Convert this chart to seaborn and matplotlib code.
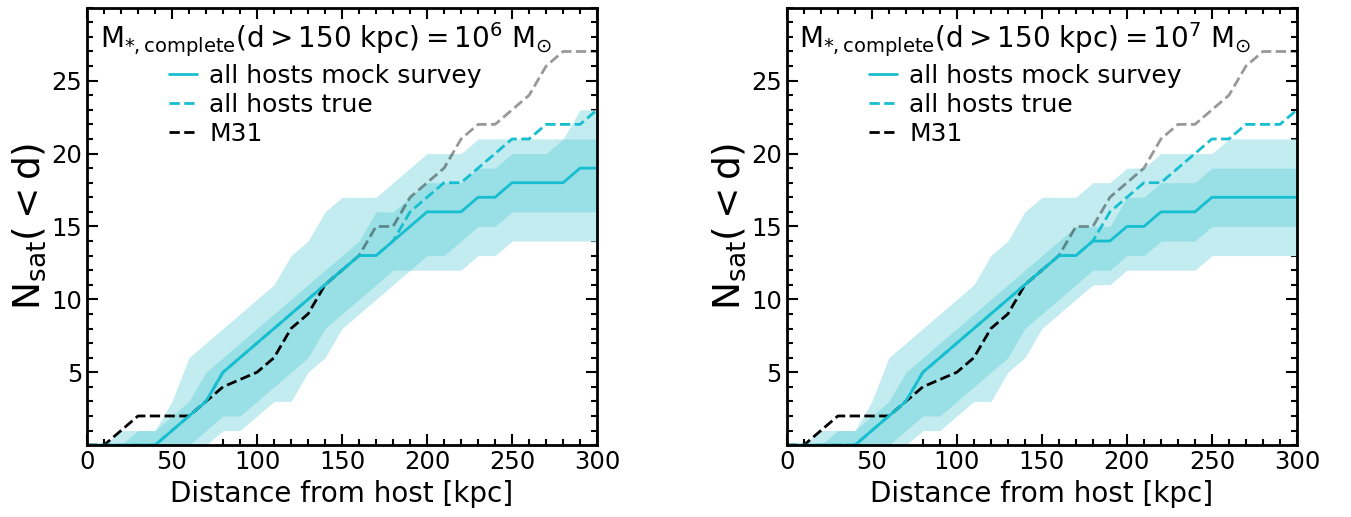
import numpy as np
import pandas as pd
import matplotlib.pyplot as plt
import seaborn as sns
from matplotlib.ticker import MultipleLocator

dist = list(range(0, 310, 10))

# M_star,complete = 1e6
mock_1e6 = [0, 0, 0, 0, 0, 1, 2, 3, 5, 6, 7, 8, 9, 10, 11, 12, 13, 13, 14, 15,
            16, 16, 16, 17, 17, 18, 18, 18, 18, 19, 19]
hi2_1e6 = [0, 0, 1, 1, 1, 3, 6, 7, 8, 9, 10, 11, 13, 14, 16, 17, 17, 17, 18, 19,
           20, 20, 20, 21, 21, 21, 21, 21, 21, 23, 23]
hi1_1e6 = [0, 0, 0, 1, 1, 2, 3, 5, 6, 7, 8, 9, 10, 11, 12, 13, 14, 16, 16, 17,
           18, 18, 18, 19, 19, 20, 20, 20, 21, 21, 21]
lo1_1e6 = [0, 0, 0, 0, 0, 0, 0, 1, 2, 2, 3, 4, 5, 6, 8, 9, 10, 11, 12, 12,
           13, 13, 14, 15, 15, 16, 16, 16, 16, 16, 16]
lo2_1e6 = [0, 0, 0, 0, 0, 0, 0, 0, 1, 1, 2, 3, 3, 5, 6, 8, 9, 10, 11, 12,
           12, 12, 12, 13, 13, 14, 14, 14, 14, 14, 14]

# M_star,complete = 1e7
mock_1e7 = [0, 0, 0, 0, 0, 1, 2, 3, 5, 6, 7, 8, 9, 10, 11, 12, 13, 13, 14, 14,
            15, 15, 16, 16, 16, 17, 17, 17, 17, 17, 17]
hi2_1e7 = [0, 0, 1, 1, 1, 3, 6, 7, 8, 9, 10, 11, 13, 14, 16, 17, 17, 17, 18, 18,
           19, 19, 20, 20, 20, 20, 21, 21, 21, 21, 21]
hi1_1e7 = [0, 0, 0, 1, 1, 2, 3, 5, 6, 7, 8, 9, 10, 11, 12, 13, 14, 15, 15, 15,
           17, 17, 18, 18, 18, 19, 19, 19, 19, 19, 19]
lo1_1e7 = [0, 0, 0, 0, 0, 0, 0, 1, 2, 2, 3, 4, 5, 6, 8, 9, 10, 11, 12, 12,
           13, 13, 14, 14, 14, 15, 15, 15, 15, 15, 15]
lo2_1e7 = [0, 0, 0, 0, 0, 0, 0, 0, 1, 1, 2, 3, 3, 5, 6, 8, 9, 10, 11, 11,
           12, 12, 12, 12, 12, 13, 13, 13, 13, 13, 13]

true_all = [0, 0, 0, 0, 0, 1, 2, 3, 5, 6, 7, 8, 9, 10, 11, 12, 13, 13, 14, 16,
            17, 18, 18, 19, 20, 21, 21, 22, 22, 22, 23]

m31_dist = [0, 10, 20, 30, 40, 50, 60, 70, 80, 90, 100, 110, 120, 130, 140, 150]
m31_n = [0, 0, 1, 2, 2, 2, 2, 3, 4, 4.5, 5, 6, 8, 9, 11, 12]
m31_far_dist = list(range(150, 310, 10))
m31_far_n = [12, 13, 15, 15, 17, 18, 19, 21, 22, 22, 23, 24, 26, 27, 27, 27]

panels = [('6', mock_1e6, lo2_1e6, hi2_1e6, lo1_1e6, hi1_1e6),
          ('7', mock_1e7, lo2_1e7, hi2_1e7, lo1_1e7, hi1_1e7)]

cyan = '#17becf'

sns.set_style('ticks')
plt.rcParams['font.family'] = ['DejaVu Sans']
plt.rcParams['mathtext.default'] = 'regular'
for k in ['text.color', 'axes.labelcolor', 'xtick.color', 'ytick.color', 'axes.edgecolor']:
    plt.rcParams[k] = 'black'

fig, axes = plt.subplots(1, 2, figsize=(13.51, 5.17), dpi=100)
plt.subplots_adjust(left=0.0644, right=0.96, bottom=0.139, top=0.985, wspace=0.372)

for ax, (exp, mock, lo2, hi2, lo1, hi1) in zip(axes, panels):
    ax.fill_between(dist, lo2, hi2, color='#c2ecef', lw=0)
    ax.fill_between(dist, lo1, hi1, color='#98e0e5', lw=0)
    sns.lineplot(x=dist, y=true_all, ax=ax, color=cyan, lw=2, linestyle='--',
                 label='all hosts true')
    sns.lineplot(x=m31_dist, y=m31_n, ax=ax, color='black', lw=2, linestyle='--',
                 label='M31')
    sns.lineplot(x=m31_far_dist, y=m31_far_n, ax=ax, color='black', alpha=0.4,
                 lw=2, linestyle='--')
    sns.lineplot(x=dist, y=mock, ax=ax, color=cyan, lw=2,
                 label='all hosts mock survey')

    h, l = ax.get_legend_handles_labels()
    order = [l.index('all hosts mock survey'), l.index('all hosts true'), l.index('M31')]
    ax.legend([h[i] for i in order], [l[i] for i in order], loc='upper left',
              frameon=False, fontsize=18, title_fontsize=20,
              title=r'$M_{*,complete}(d > 150\ kpc) = 10^{%s}\ M_{\odot}$' % exp,
              borderaxespad=0.1, handlelength=1.1, handletextpad=0.5,
              labelspacing=0.2)

    ax.set_xlim(0, 300)
    ax.set_ylim(0, 30)
    ax.set_xticks([0, 50, 100, 150, 200, 250, 300])
    ax.set_yticks([5, 10, 15, 20, 25])
    ax.xaxis.set_minor_locator(MultipleLocator(10))
    ax.yaxis.set_minor_locator(MultipleLocator(1))
    ax.tick_params(which='both', direction='in', top=True, right=True, width=1.5)
    ax.tick_params(which='major', length=8, labelsize=17.5)
    ax.tick_params(which='minor', length=4)
    for s in ax.spines.values():
        s.set_linewidth(2)
    ax.set_xlabel('Distance from host [kpc]', fontsize=20)
    ax.set_ylabel(r'$N_{sat}(<d)$', fontsize=27, labelpad=2)

plt.savefig('out.png', dpi=100)
